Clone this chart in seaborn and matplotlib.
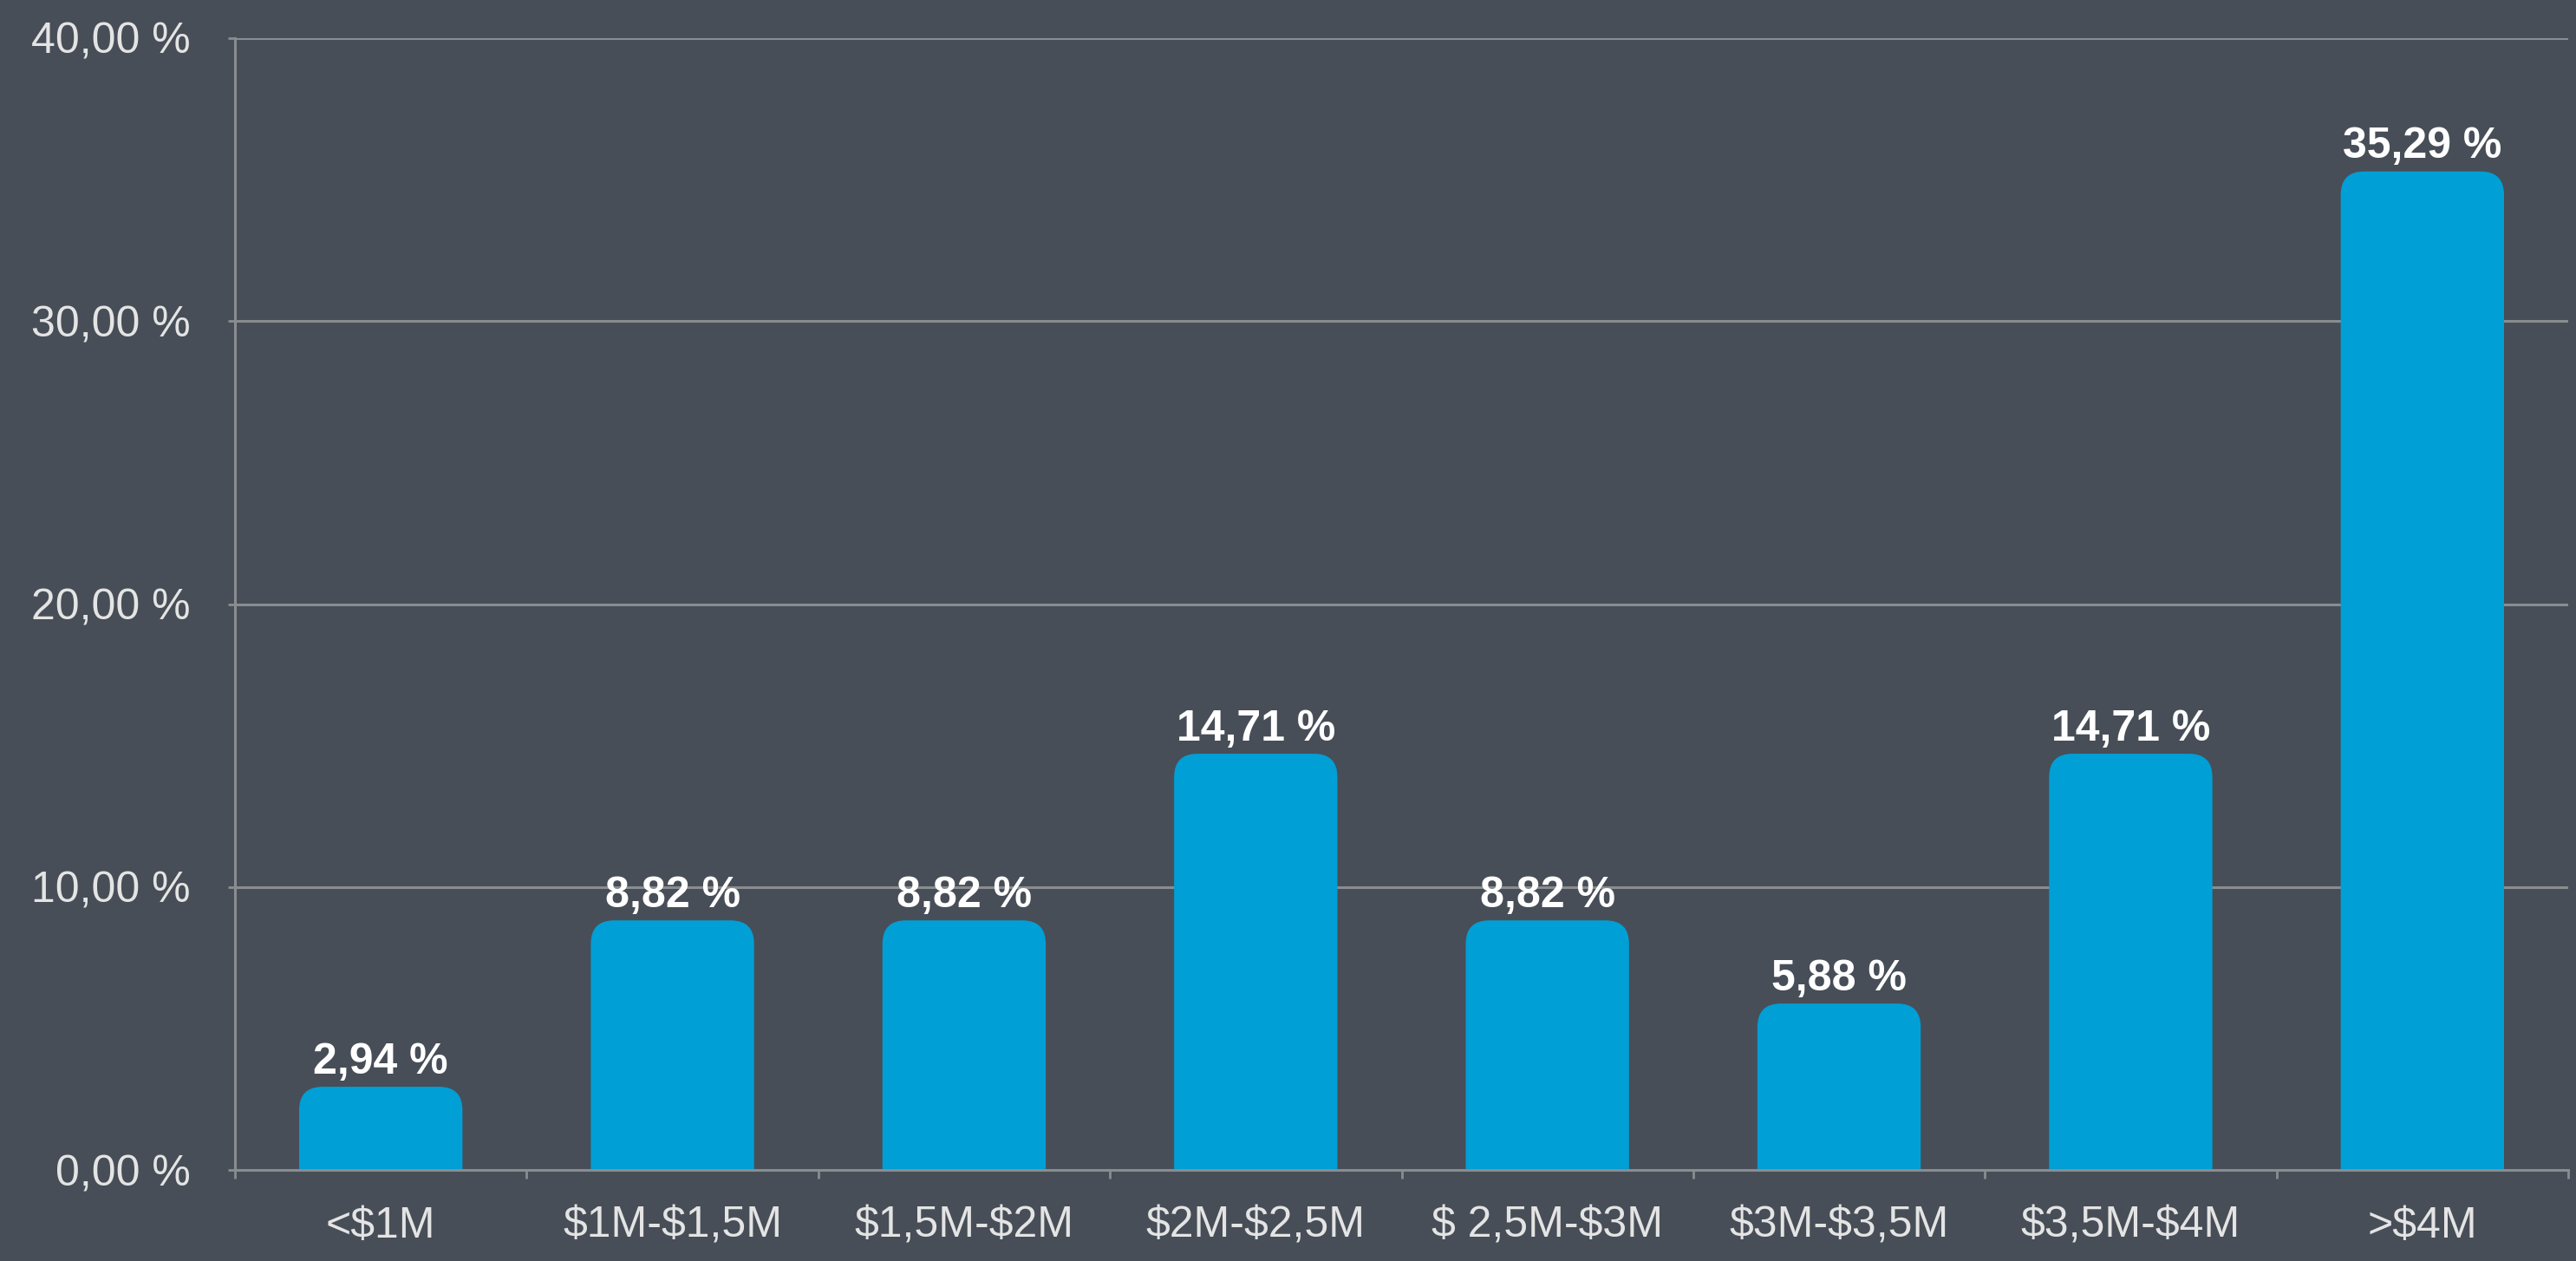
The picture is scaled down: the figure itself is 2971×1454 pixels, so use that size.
import numpy as np
import pandas as pd
import matplotlib
matplotlib.use("Agg")
import matplotlib.pyplot as plt
from matplotlib.patches import FancyBboxPatch
from matplotlib.ticker import FixedLocator
import seaborn as sns

# Share of properties by price band
categories = ["<$1M", "$1M-$1,5M", "$1,5M-$2M", "$2M-$2,5M", "$ 2,5M-$3M",
              "$3M-$3,5M", "$3,5M-$4M", ">$4M"]
shares = [2.94, 8.82, 8.82, 14.71, 8.82, 5.88, 14.71, 35.29]
y_ticks = [0, 10, 20, 30, 40]
y_tick_labels = ["0,00 %", "10,00 %", "20,00 %", "30,00 %", "40,00 %"]

BG = "#474e57"
BAR = "#009fd6"
GRID = "#8a8d90"
TEXT = "#e4e4e4"

sns.set_theme(style="dark")
plt.rcParams["font.family"] = ["Liberation Sans", "DejaVu Sans"]
# Dollar signs in the labels are literal, not math delimiters
plt.rcParams["text.parse_math"] = False

df = pd.DataFrame({"band": categories, "share": shares})

dpi = 100
fig = plt.figure(figsize=(2971 / dpi, 1454 / dpi), dpi=dpi, facecolor=BG)
ax = fig.add_axes([271 / 2971, 1 - 1349 / 1454, (2962 - 271) / 2971, (1349 - 44) / 1454])
ax.set_facecolor(BG)

sns.barplot(data=df, x="band", y="share", color=BAR, width=0.56,
            saturation=1, ax=ax, zorder=3)

ax.set_xlim(-0.5, len(categories) - 0.5)
ax.set_ylim(0, 40)

# y axis: ticks, labels and horizontal grid
ax.set_yticks(y_ticks)
ax.set_yticklabels(y_tick_labels)
ax.yaxis.grid(True, color=GRID, linewidth=2.2)
ax.xaxis.grid(False)
ax.set_axisbelow(True)
ax.tick_params(axis="y", which="major", left=True, length=6, width=2, color=GRID,
               labelsize=36, labelcolor=TEXT, pad=31)

# x axis: labels at centres, tick marks at the category boundaries
ax.set_xticks(range(len(categories)))
ax.set_xticklabels(categories)
ax.tick_params(axis="x", which="major", bottom=True, length=0, labelsize=36,
               labelcolor=TEXT, pad=30)
ax.xaxis.set_minor_locator(FixedLocator(np.arange(-0.5, len(categories), 1.0)))
ax.tick_params(axis="x", which="minor", bottom=True, length=7, width=2, color=GRID)

ax.set_xlabel("")
ax.set_ylabel("")
for side in ["top", "right"]:
    ax.spines[side].set_visible(False)
for side in ["left", "bottom"]:
    ax.spines[side].set_visible(True)
    ax.spines[side].set_color(GRID)
    ax.spines[side].set_linewidth(2.2)
ax.spines["bottom"].set_zorder(4)

# Replace the square bars with top-rounded ones of the same geometry
fig.canvas.draw()
px_x = ax.transData.transform((1, 0))[0] - ax.transData.transform((0, 0))[0]
px_y = ax.transData.transform((0, 1))[1] - ax.transData.transform((0, 0))[1]
radius_px = 27
r_x = radius_px / px_x
aspect = (radius_px / px_y) / r_x

for bar in list(ax.patches):
    x0 = bar.get_x()
    w = bar.get_width()
    h = bar.get_height()
    bar.set_visible(False)
    rounded = FancyBboxPatch((x0, -3), w, h + 3,
                             boxstyle=f"round,pad=0,rounding_size={r_x}",
                             mutation_aspect=aspect, facecolor=BAR,
                             edgecolor="none", zorder=3, clip_on=True)
    ax.add_patch(rounded)
    ax.annotate(f"{h:.2f}".replace(".", ",") + " %",
                xy=(x0 + w / 2, h), xytext=(0, 11), textcoords="offset points",
                ha="center", va="baseline", fontsize=36, fontweight="bold",
                color="white", zorder=5)

fig.savefig("out.png", dpi=dpi, facecolor=BG)
